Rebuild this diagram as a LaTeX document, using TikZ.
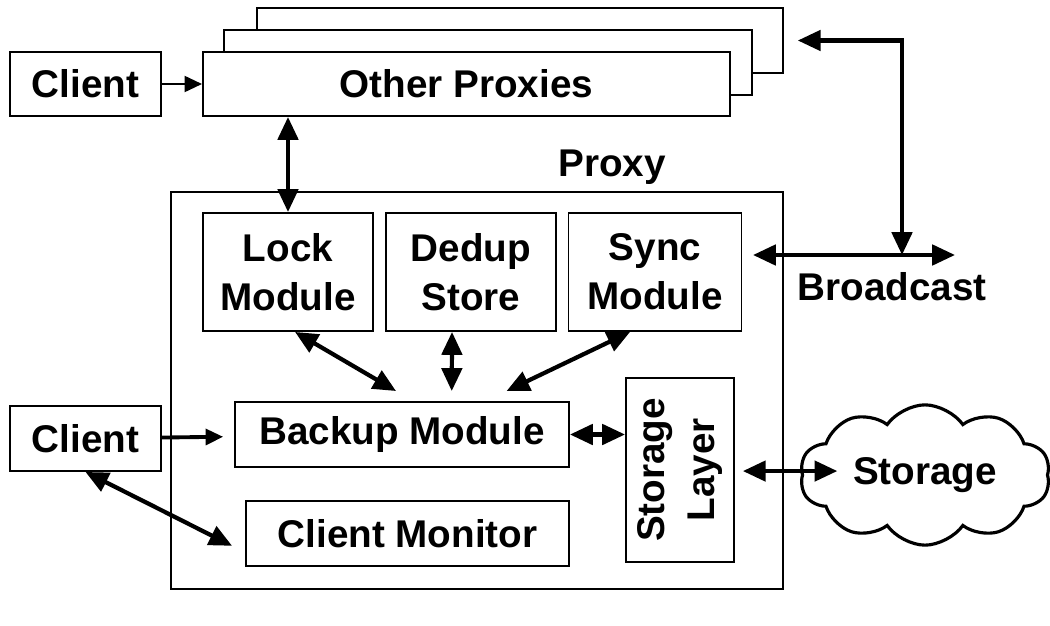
\documentclass[tikz,border=0pt]{standalone}
\usepackage{fontspec}
\setmainfont{Liberation Sans}
\usetikzlibrary{arrows.meta,shapes.symbols}

\begin{document}
\begin{tikzpicture}[x=0.02cm, y=-0.02cm,
	every node/.style={font=\fontsize{22}{28}\selectfont\bfseries, align=center},
	box/.style={draw, line width=1.1pt, fill=white, inner sep=0pt},
	link/.style={line width=2.4pt, {Triangle[length=13pt,width=11.5pt]}-{Triangle[length=13pt,width=11.5pt]}},
	feed/.style={line width=1.6pt, -{Triangle[length=10pt,width=9pt]}}]
	\useasboundingbox (0,0) rectangle (1050,625);

	% other proxies, stacked
	\node[box, minimum width=10.52cm, minimum height=1.3cm] (op3) at (520,40.5) {};
	\node[box, minimum width=10.56cm, minimum height=1.3cm] (op2) at (488,62.5) {};
	\node[box, minimum width=10.54cm, minimum height=1.28cm] (op1) at (466.5,84) {Other Proxies};
	\node[box, minimum width=3.02cm, minimum height=1.28cm] (client1) at (85.5,84) {Client};

	% proxy frame
	\node[box, minimum width=12.24cm, minimum height=7.94cm] (proxy) at (477,390.5) {};
	\node[fill=white, inner sep=1pt] (proxylbl) at (612,167) {Proxy};

	\node[box, minimum width=3.4cm, minimum height=2.36cm] (lock) at (288,272) {Lock\\Module};
	\node[box, minimum width=3.4cm, minimum height=2.36cm] (dedup) at (471,272) {Dedup\\Store};
	\node[box, minimum width=3.46cm, minimum height=2.36cm] (sync) at (655,272) {Sync\\Module};
	\node[box, minimum width=6.68cm, minimum height=1.3cm] (backup) at (402,434.5) {Backup Module};
	\node[box, minimum width=6.46cm, minimum height=1.3cm] (cmon) at (407.5,533.5) {Client Monitor};
	\node[box, minimum width=3.68cm, minimum height=2.16cm, rotate=90] (layer) at (680,470) {Storage\\Layer};

	\node[box, minimum width=3.02cm, minimum height=1.3cm] (client2) at (85.5,438.5) {Client};
	\node[draw, line width=1.8pt, shape=cloud, cloud puffs=10, cloud puff arc=110, aspect=1.8,
		minimum width=5cm, minimum height=2.8cm, inner sep=0pt] (store) at (925,475) {Storage};
	\node (bcastlbl) at (892,287) {Broadcast};

	% broadcast
	\coordinate (bleft) at (753,255);
	\coordinate (bright) at (955,255);
	\coordinate (bmid) at (902,255);
	\draw[link] (bleft) -- (bright);
	\draw[link, shorten <=7.9pt] (op3.east) -| (bmid);

	% connectors
	\draw[feed] (client1) -- (op1);
	\draw[link] (lock.north) -- (lock.north |- op1.south);
	\draw[link] ([xshift=4pt]lock.south) -- ([xshift=-3.4pt,yshift=5.7pt]backup.north);
	\draw[link] ([xshift=-10.8pt]dedup.south) -- ([xshift=28.3pt,yshift=5.7pt]backup.north);
	\draw[link] ([xshift=-14.2pt]sync.south) -- ([xshift=59.5pt,yshift=5.7pt]backup.north);
	\draw[feed, line width=2.2pt, shorten >=6.2pt] (client2) -- (backup);
	\draw[link] (backup.east) -- (backup.east -| layer.north);
	\draw[link, shorten <=4.5pt, shorten >=49.9pt] ([yshift=-0.6pt]layer.south) -- ([yshift=-0.6pt]layer.south -| store.center);
	\draw[link] (client2.south) -- ([xshift=-7.4pt,yshift=-7pt]cmon.west);
\end{tikzpicture}
\end{document}
